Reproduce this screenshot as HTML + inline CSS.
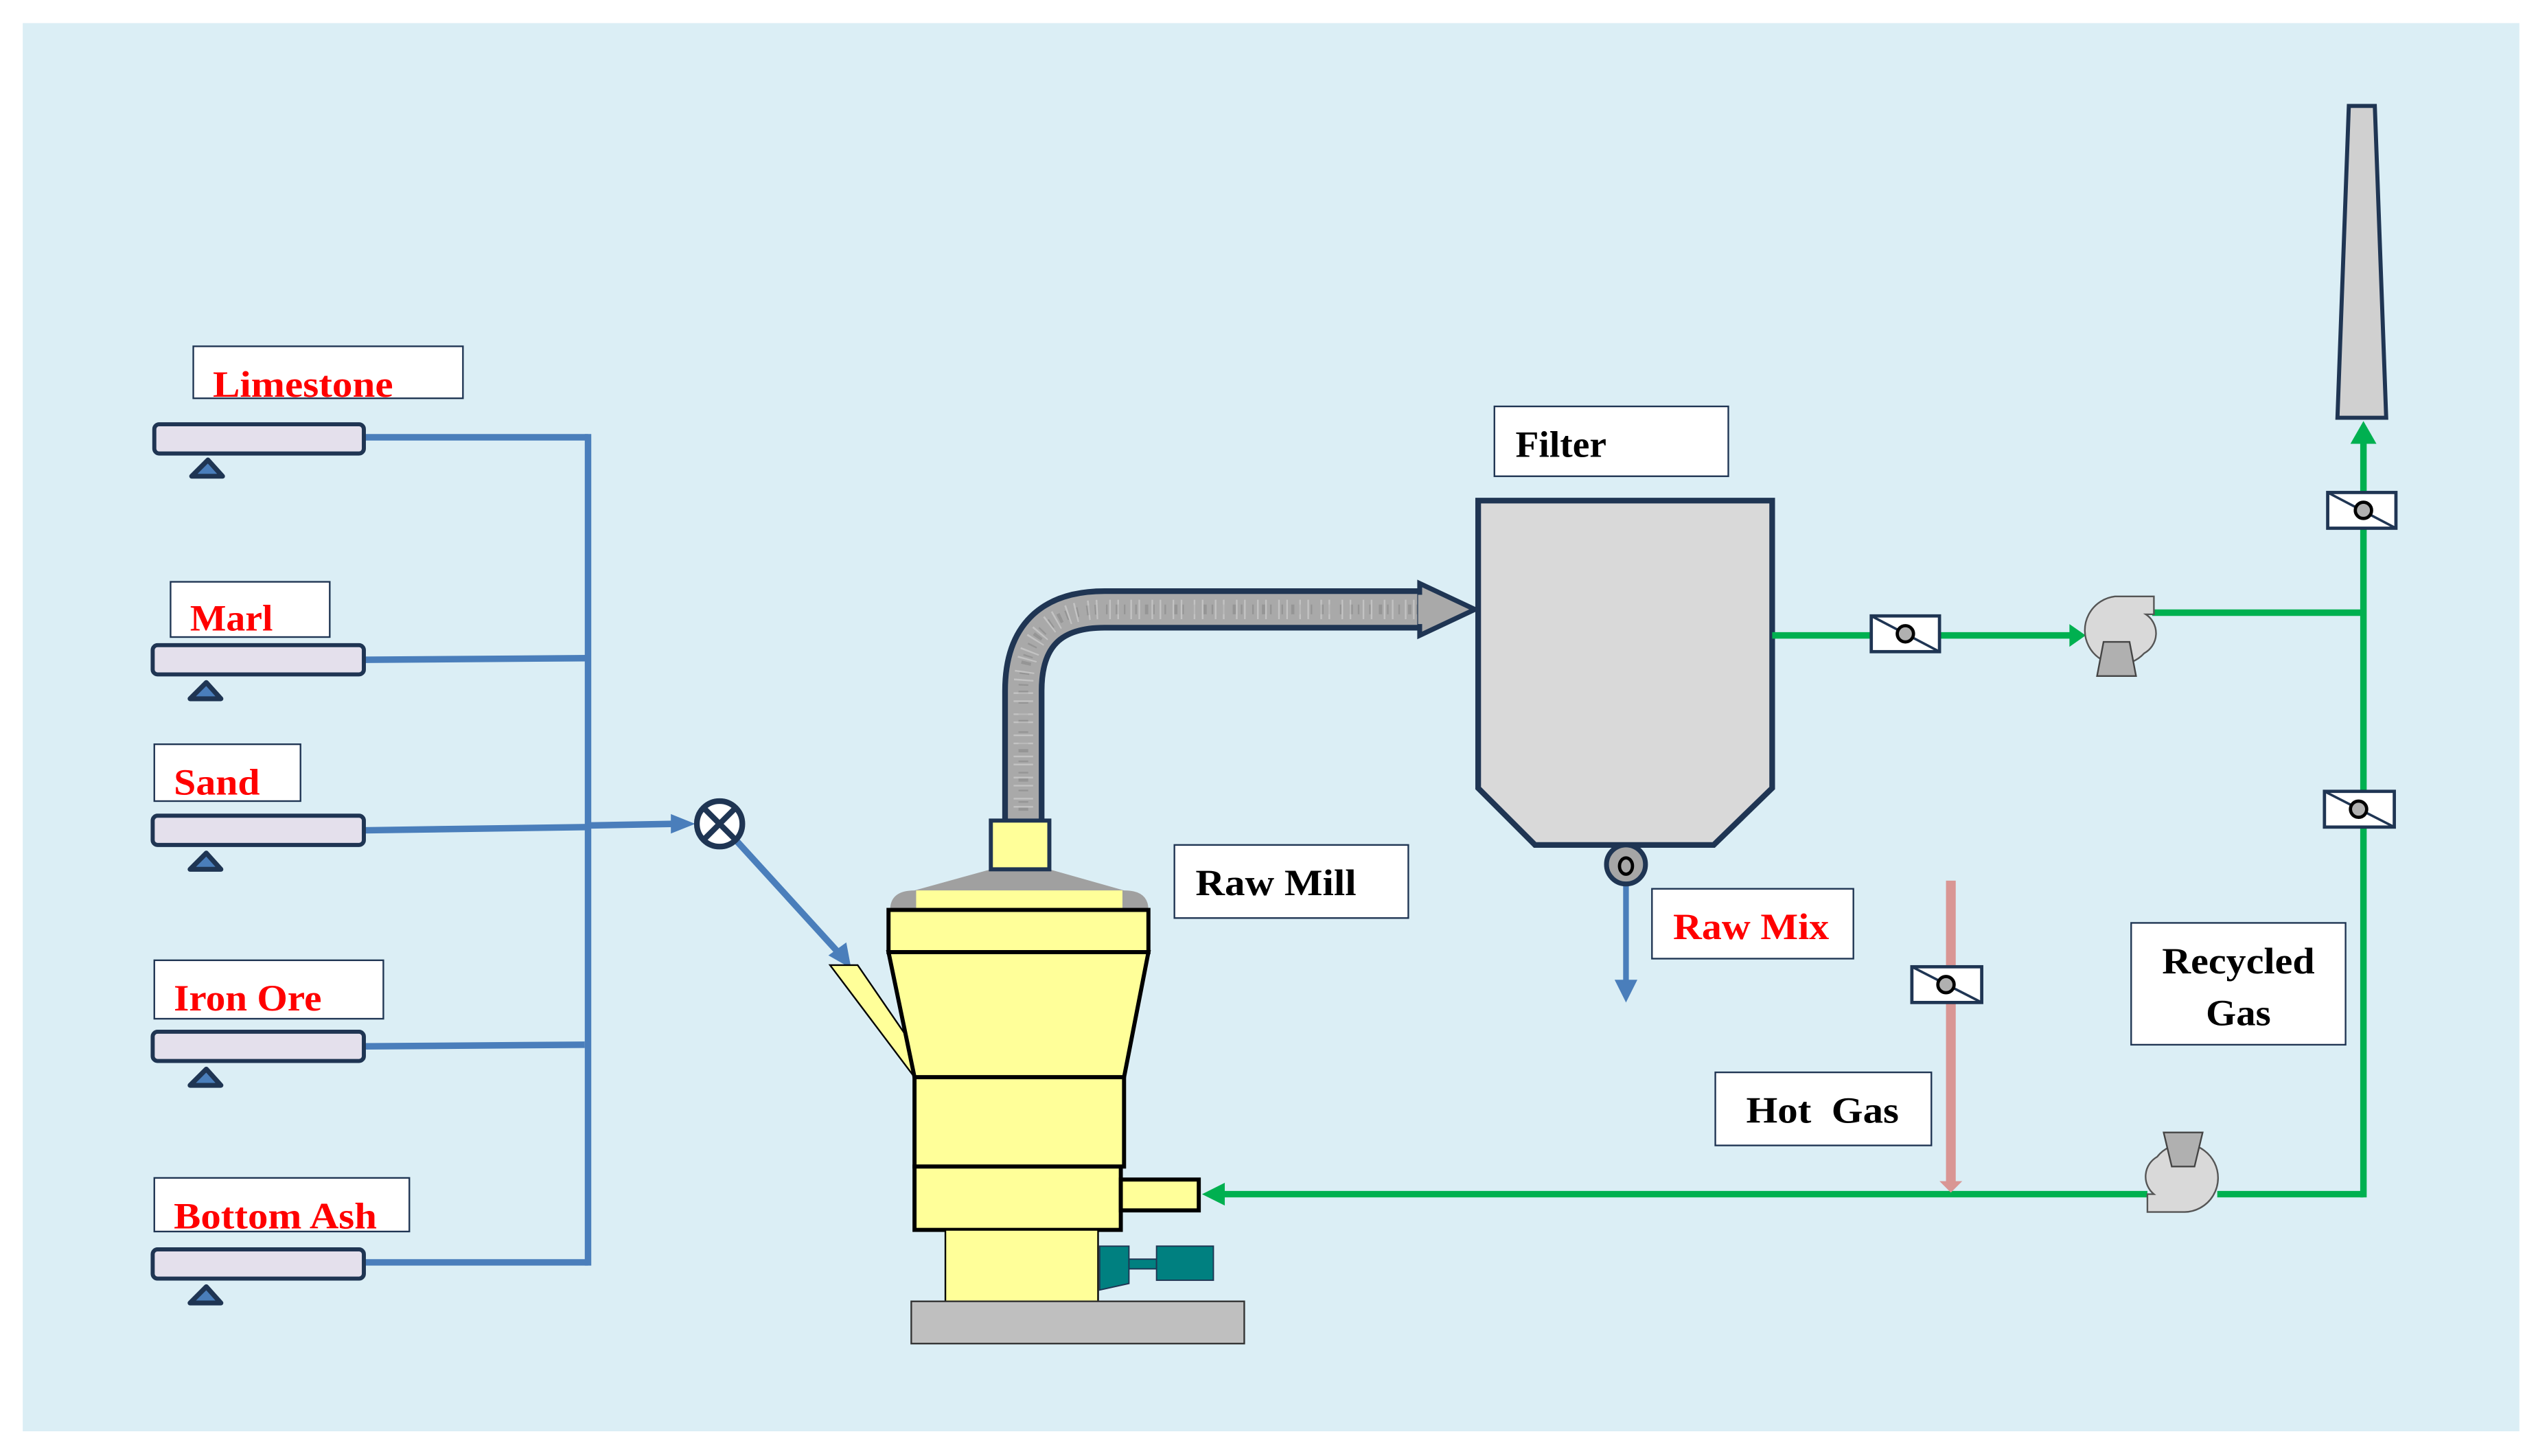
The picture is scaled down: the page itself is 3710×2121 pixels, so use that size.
<!DOCTYPE html>
<html><head><meta charset="utf-8"><style>
html,body{margin:0;padding:0;background:#fff}
svg{display:block}
text{font-family:"Liberation Serif",serif;font-weight:bold}
</style></head><body>
<svg width="3710" height="2121" viewBox="0 0 1568 896" xmlns="http://www.w3.org/2000/svg">
<rect x="14" y="14" width="1537" height="867" fill="#dbeef5"/>

<!-- feeders -->
<g stroke="#4a7ebb" stroke-width="4" fill="none">
<line x1="224" y1="269" x2="362" y2="269"/>
<line x1="224" y1="406" x2="362" y2="405"/>
<line x1="224" y1="511" x2="362" y2="509"/>
<line x1="224" y1="644" x2="360" y2="643"/>
<line x1="224" y1="777" x2="362" y2="777"/>
<line x1="362" y1="267" x2="362" y2="779"/>
<line x1="362" y1="508" x2="415" y2="507"/>
<line x1="453" y1="517" x2="515" y2="585"/>
</g>
<polygon points="413,501 428,507 413,513" fill="#4a7ebb"/>
<polygon points="510,588 524,596 521,580" fill="#4a7ebb"/>
<circle cx="443" cy="507" r="14" fill="#fff" stroke="#1f3553" stroke-width="3.5"/>
<line x1="434" y1="498" x2="452" y2="516" stroke="#1f3553" stroke-width="3.5"/>
<line x1="452" y1="498" x2="434" y2="516" stroke="#1f3553" stroke-width="3.5"/>

<g fill="#e4e0ec" stroke="#1f3553" stroke-width="2.5">
<rect x="95" y="261" width="129" height="18" rx="3"/>
<rect x="94" y="397" width="130" height="18" rx="3"/>
<rect x="94" y="502" width="130" height="18" rx="3"/>
<rect x="94" y="635" width="130" height="18" rx="3"/>
<rect x="94" y="769" width="130" height="18" rx="3"/>
</g>
<g fill="#4a7ebb" stroke="#1f3553" stroke-width="3" stroke-linejoin="round">
<polygon points="118,293 128,283 137,293"/>
<polygon points="117,430 127,420 136,430"/>
<polygon points="117,535 127,525 136,535"/>
<polygon points="117,668 127,658 136,668"/>
<polygon points="117,802 127,792 136,802"/>
</g>
<g fill="#fff" stroke="#1f3553" stroke-width="1">
<rect x="119" y="213" width="166" height="32"/>
<rect x="105" y="358" width="98" height="34"/>
<rect x="95" y="458" width="90" height="35"/>
<rect x="95" y="591" width="141" height="36"/>
<rect x="95" y="725" width="157" height="33"/>
</g>
<g fill="#ff0000" font-size="23">
<text x="131" y="244" textLength="111" lengthAdjust="spacingAndGlyphs">Limestone</text>
<text x="117" y="388" textLength="51" lengthAdjust="spacingAndGlyphs">Marl</text>
<text x="107" y="489" textLength="53" lengthAdjust="spacingAndGlyphs">Sand</text>
<text x="107" y="622" textLength="91" lengthAdjust="spacingAndGlyphs">Iron Ore</text>
<text x="107" y="756" textLength="125" lengthAdjust="spacingAndGlyphs">Bottom Ash</text>
</g>

<!-- duct -->
<path d="M630,505 V425 Q630,375 680,375 H877" fill="none" stroke="#1f3553" stroke-width="26"/>
<path d="M630,505 V425 Q630,375 680,375 H880" fill="none" stroke="#a9a9a9" stroke-width="19"/>
<path d="M630,505 V425 Q630,375 680,375 H880" fill="none" stroke="#888" stroke-width="6" stroke-dasharray="1 5 2 3 1 6" opacity="0.6"/>
<path d="M630,505 V425 Q630,375 680,375 H880" fill="none" stroke="#ddd" stroke-width="12" stroke-dasharray="1 7 1 4" opacity="0.5"/>
<polygon points="874,359 908,375 874,391" fill="#a9a9a9" stroke="#1f3553" stroke-width="3"/>
<rect x="873" y="366" width="6" height="18" fill="#a9a9a9"/>

<!-- mill -->
<polygon points="511,594 528,594 563,645 563,663" fill="#ffff99" stroke="#000" stroke-width="1"/>
<path d="M548,560 Q548,548 563,548 L610,535 L646,535 L692,548 Q707,548 707,560 Z" fill="#a0a0a0"/>
<rect x="564" y="548" width="127" height="12" fill="#ffff99"/>
<rect x="610" y="505" width="36" height="30" fill="#ffff99" stroke="#1f3553" stroke-width="2.5"/>
<g fill="#ffff99" stroke="#000" stroke-width="2.5">
<rect x="547" y="560" width="160" height="26"/>
<polygon points="547,586 707,586 692,663 563,663"/>
<rect x="563" y="663" width="129" height="55"/>
<rect x="563" y="718" width="127" height="39"/>
<rect x="690" y="726" width="48" height="19"/>
</g>
<rect x="582" y="757" width="94" height="44" fill="#ffff99" stroke="#000" stroke-width="1"/>
<polygon points="677,767 695,767 695,790 677,794" fill="#008080" stroke="#1f3553" stroke-width="0.8"/>
<rect x="695" y="775" width="17" height="6" fill="#008080" stroke="#1f3553" stroke-width="0.8"/>
<rect x="712" y="767" width="35" height="21" fill="#008080" stroke="#1f3553" stroke-width="0.8"/>
<rect x="561" y="801" width="205" height="26" fill="#bfbfbf" stroke="#333" stroke-width="1"/>

<!-- filter -->
<polygon points="910,308 1091,308 1091,485 1055,520 945,520 910,485" fill="#d9d9d9" stroke="#1f3553" stroke-width="3.5"/>
<line x1="1001" y1="540" x2="1001" y2="605" stroke="#4a7ebb" stroke-width="3.5"/>
<polygon points="994,603 1008,603 1001,617" fill="#4a7ebb"/>
<circle cx="1001" cy="532" r="12" fill="#a6a6a6" stroke="#1f3553" stroke-width="3"/>
<ellipse cx="1001" cy="533" rx="4" ry="5" fill="none" stroke="#000" stroke-width="2"/>

<!-- green lines -->
<g stroke="#00b050" stroke-width="4" fill="none">
<line x1="1091" y1="391" x2="1275" y2="391"/>
<polyline points="1325,377 1455,377"/>
<line x1="1455" y1="270" x2="1455" y2="737"/>
<line x1="1455" y1="735" x2="1365" y2="735"/>
<line x1="1322" y1="735" x2="752" y2="735"/>
</g>
<polygon points="1274,384 1284,391 1274,398" fill="#00b050"/>
<polygon points="1447,273 1455,259 1463,273" fill="#00b050"/>
<polygon points="754,728 740,735 754,742" fill="#00b050"/>

<!-- hot gas -->
<line x1="1201" y1="542" x2="1201" y2="728" stroke="#d99694" stroke-width="6"/>
<polygon points="1194,727 1208,727 1201,734" fill="#d99694"/>

<!-- stack -->
<polygon points="1446,65 1462,65 1469,257 1439,257" fill="#d0d0d0" stroke="#1f3553" stroke-width="2.5"/>

<!-- dampers -->
<g fill="#fff" stroke="#1f3553" stroke-width="2">
<rect x="1152" y="379" width="42" height="22"/>
<rect x="1433" y="303" width="42" height="22"/>
<rect x="1431" y="487" width="43" height="22"/>
<rect x="1177" y="595" width="43" height="22"/>
</g>
<g stroke="#1f3553" stroke-width="1.5">
<line x1="1152" y1="379" x2="1194" y2="401"/>
<line x1="1433" y1="303" x2="1475" y2="325"/>
<line x1="1431" y1="487" x2="1474" y2="509"/>
<line x1="1177" y1="595" x2="1220" y2="617"/>
</g>
<g fill="#b0b0b0" stroke="#000" stroke-width="2">
<circle cx="1173" cy="390" r="5"/>
<circle cx="1455" cy="314" r="5"/>
<circle cx="1452" cy="498" r="5"/>
<circle cx="1198" cy="606" r="5"/>
</g>

<!-- fans -->
<path d="M1326,367 H1302 A21,21 0 1 0 1320,402 A14,14 0 0 0 1321,378 H1326 Z" fill="#d9d9d9" stroke="#555" stroke-width="1"/>
<polygon points="1295,395 1311,395 1315,416 1291,416" fill="#b0b0b0" stroke="#444" stroke-width="1"/>
<path d="M1322,746 H1345 A21,21 0 1 0 1328,712 A14,14 0 0 0 1326,735 H1322 Z" fill="#d9d9d9" stroke="#555" stroke-width="1"/>
<polygon points="1332,697 1356,697 1351,718 1337,718" fill="#b0b0b0" stroke="#444" stroke-width="1"/>

<!-- black labels -->
<g fill="#fff" stroke="#1f3553" stroke-width="1">
<rect x="920" y="250" width="144" height="43"/>
<rect x="723" y="520" width="144" height="45"/>
<rect x="1017" y="547" width="124" height="43"/>
<rect x="1056" y="660" width="133" height="45"/>
<rect x="1312" y="568" width="132" height="75"/>
</g>
<g font-size="23" fill="#000">
<text x="933" y="281" textLength="56" lengthAdjust="spacingAndGlyphs">Filter</text>
<text x="736" y="551" textLength="99" lengthAdjust="spacingAndGlyphs">Raw Mill</text>
<text x="1075" y="691" xml:space="preserve" textLength="94" lengthAdjust="spacingAndGlyphs">Hot  Gas</text>
<text x="1331" y="599" textLength="94" lengthAdjust="spacingAndGlyphs">Recycled</text>
<text x="1358" y="631" textLength="40" lengthAdjust="spacingAndGlyphs">Gas</text>
</g>
<text x="1030" y="578" font-size="23" fill="#ff0000" textLength="96" lengthAdjust="spacingAndGlyphs">Raw Mix</text>
</svg>
</body></html>
